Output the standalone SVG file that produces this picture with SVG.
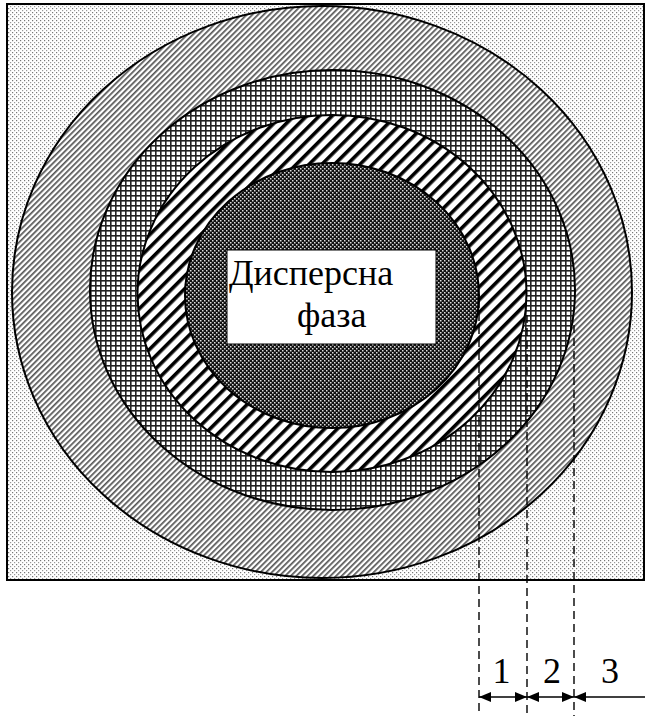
<svg xmlns="http://www.w3.org/2000/svg" width="645" height="716" viewBox="0 0 645 716">
<style>
.edge{stroke:#000;stroke-width:2;}
.lbl{font-family:"Liberation Serif","Times New Roman",serif;font-size:36px;fill:#000;}
.dash{stroke:#000;stroke-width:1.4;stroke-dasharray:8,5;fill:none;}
.dim{stroke:#000;stroke-width:1.4;fill:none;}
</style>
<defs>
<pattern id="dots" width="4" height="4" patternUnits="userSpaceOnUse">
<rect width="4" height="4" fill="#fff"/>
<rect x="0" y="0" width="1.2" height="1.2" fill="#777"/>
<rect x="2" y="2" width="1.2" height="1.2" fill="#999"/>
</pattern>
<pattern id="fine" width="4" height="4" patternUnits="userSpaceOnUse" patternTransform="rotate(45)">
<rect width="4" height="4" fill="#fff"/>
<rect x="0" y="0" width="1.7" height="4" fill="#555"/>
</pattern>
<pattern id="grid" width="5" height="5" patternUnits="userSpaceOnUse">
<rect width="5" height="5" fill="#fff"/>
<rect x="0" y="0" width="5" height="1.6" fill="#222"/>
<rect x="0" y="0" width="1.6" height="5" fill="#222"/>
</pattern>
<pattern id="bold" width="9" height="9" patternUnits="userSpaceOnUse" patternTransform="rotate(45)">
<rect width="9" height="9" fill="#fff"/>
<rect x="0" y="0" width="3.6" height="9" fill="#000"/>
</pattern>
<pattern id="dark" width="4" height="4" patternUnits="userSpaceOnUse">
<rect width="4" height="4" fill="#111"/>
<rect x="0" y="0" width="1.5" height="1.5" fill="#ddd"/>
<rect x="2" y="2" width="1.5" height="1.5" fill="#ddd"/>
</pattern>
<marker id="ah" viewBox="0 0 12 10" refX="12" refY="5" markerWidth="12" markerHeight="10" markerUnits="userSpaceOnUse" orient="auto-start-reverse">
<path d="M0,0 L12,5 L0,10 Z" fill="#000"/>
</marker>
</defs>
<g id="medium">
<rect x="7" y="4" width="637" height="576" fill="url(#dots)" class="edge"/>
</g>
<g id="layer3">
<ellipse cx="322" cy="292" rx="310" ry="286" fill="url(#fine)" class="edge"/>
</g>
<g id="layer2">
<ellipse cx="332.5" cy="290" rx="242.5" ry="220" fill="url(#grid)" class="edge"/>
</g>
<g id="layer1">
<ellipse cx="332" cy="293.5" rx="194.5" ry="178.5" fill="url(#bold)" class="edge"/>
</g>
<g id="core">
<ellipse cx="332" cy="295.5" rx="147" ry="132.5" fill="url(#dark)" class="edge"/>
<rect x="227" y="250" width="209" height="94" fill="#fff" stroke="#000" stroke-width="1"/>
<text class="lbl" x="229" y="285">Дисперсна</text>
<text class="lbl" x="297" y="327">фаза</text>
</g>
<g id="connectors">
<line class="dash" x1="479" y1="300" x2="479" y2="716"/>
<line class="dash" x1="527" y1="315" x2="527" y2="716"/>
<line class="dash" x1="574" y1="325" x2="574" y2="716"/>
<line class="dim" x1="479" y1="697" x2="527" y2="697" marker-start="url(#ah)" marker-end="url(#ah)"/>
<line class="dim" x1="527" y1="697" x2="574" y2="697" marker-start="url(#ah)" marker-end="url(#ah)"/>
<line class="dim" x1="574" y1="697" x2="657" y2="697" marker-start="url(#ah)" marker-end="url(#ah)"/>
</g>
<g id="labels">
<text class="lbl" x="501.5" y="683" text-anchor="middle">1</text>
<text class="lbl" x="552" y="683" text-anchor="middle">2</text>
<text class="lbl" x="610" y="683" text-anchor="middle">3</text>
</g>
</svg>
